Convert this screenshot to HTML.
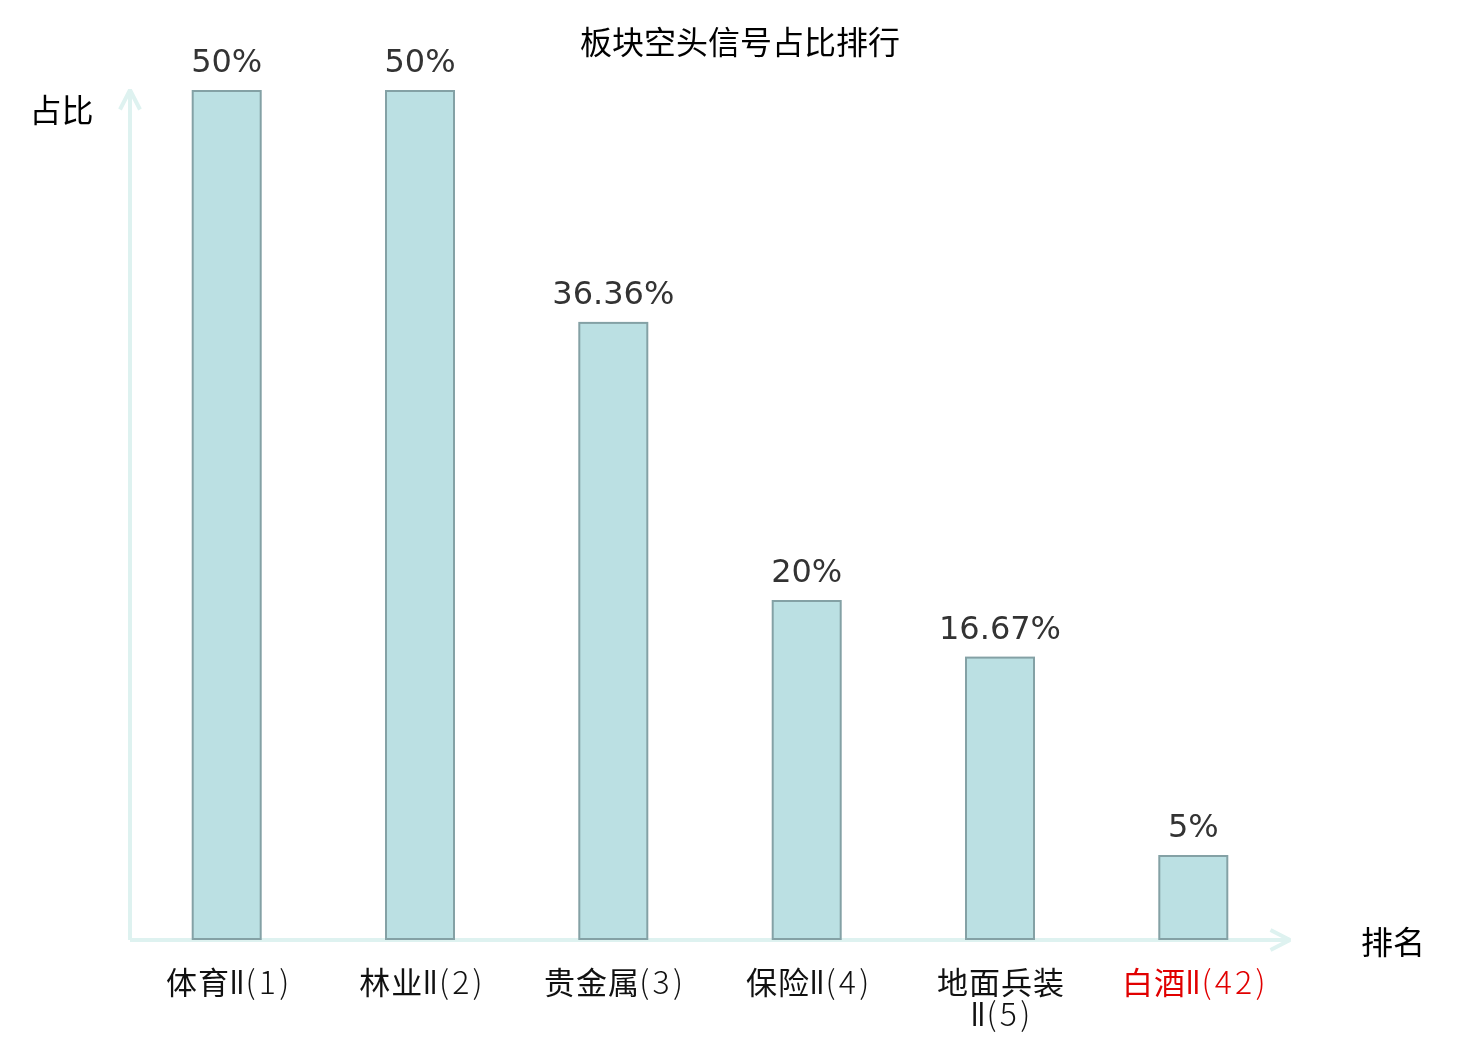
<!DOCTYPE html>
<html lang="zh">
<head>
<meta charset="utf-8">
<title>板块空头信号占比排行</title>
<style>
html,body{margin:0;padding:0;background:#fff;}
body{width:1480px;height:1040px;overflow:hidden;position:relative;}
svg{position:absolute;left:0;top:0;display:block;}
.cjk{font-family:"Liberation Sans","Noto Sans CJK JP",sans-serif;font-size:32px;font-weight:400;fill:#000;}
.val{font-family:"DejaVu Sans","Liberation Sans",sans-serif;font-size:32px;fill:#333;text-anchor:middle;}
.xl{font-family:"Noto Sans CJK SC","Noto Sans CJK JP",sans-serif;font-size:32px;fill:#111;}
.xl .c{font-weight:400;font-size:31px;letter-spacing:1px;}
.xl .r{font-weight:500;}
.xl .d{font-weight:300;letter-spacing:3.2px;}
.bar{fill:#BBE0E3;stroke:#84A1A5;stroke-width:2;}
.ax{stroke:#DEF2F0;stroke-width:4;fill:none;stroke-linejoin:bevel;}
</style>
</head>
<body>
<svg width="1480" height="1040" viewBox="0 0 1480 1040">
  <g class="ax">
    <line x1="130" y1="940" x2="130" y2="91"/>
    <polyline points="120,109.5 130,90 140,109.5"/>
    <line x1="130" y1="940" x2="1289" y2="940"/>
    <polyline points="1270.5,930 1290,940 1270.5,950"/>
  </g>
  <g class="bar">
    <rect x="192.7" y="91.0" width="68" height="848.0"/>
    <rect x="386.0" y="91.0" width="68" height="848.0"/>
    <rect x="579.3" y="322.9" width="68" height="616.1"/>
    <rect x="772.7" y="601.0" width="68" height="338.0"/>
    <rect x="966.0" y="657.6" width="68" height="281.4"/>
    <rect x="1159.3" y="856.0" width="68" height="83.0"/>
  </g>
  <g class="val">
    <text x="226.7" y="72.0">50%</text>
    <text x="420.0" y="72.0">50%</text>
    <text x="613.3" y="303.9">36.36%</text>
    <text x="806.7" y="582.0">20%</text>
    <text x="1000.0" y="638.6">16.67%</text>
    <text x="1193.3" y="837.0">5%</text>
  </g>
  <text class="cjk" x="740" y="54" text-anchor="middle">板块空头信号占比排行</text>
  <text class="cjk" x="29.5" y="122">占比</text>
  <text class="cjk" x="1361" y="953.5">排名</text>
  <g class="xl">
    <text y="993.5"><tspan class="c" x="166.0">体育</tspan><tspan class="r" x="226.2" dy="0.5" textLength="21.5" lengthAdjust="spacingAndGlyphs">Ⅱ</tspan><tspan class="d" x="245.6">(1)</tspan></text>
    <text y="993.5"><tspan class="c" x="359.3">林业</tspan><tspan class="r" x="419.5" dy="0.5" textLength="21.5" lengthAdjust="spacingAndGlyphs">Ⅱ</tspan><tspan class="d" x="438.9">(2)</tspan></text>
    <text y="993.5"><tspan class="c" x="543.9">贵金属</tspan><tspan class="d" dy="0.5" x="639.3">(3)</tspan></text>
    <text y="993.5"><tspan class="c" x="746.0">保险</tspan><tspan class="r" x="806.2" dy="0.5" textLength="21.5" lengthAdjust="spacingAndGlyphs">Ⅱ</tspan><tspan class="d" x="825.6">(4)</tspan></text>
    <text y="993.5"><tspan class="c" x="937.0">地面兵装</tspan><tspan class="r" x="967.2" y="1026.0" textLength="21.5" lengthAdjust="spacingAndGlyphs">Ⅱ</tspan><tspan class="d" x="986.6" y="1026.0">(5)</tspan></text>
    <text y="993.5" style="fill:#E10000"><tspan class="c" x="1122.1">白酒</tspan><tspan class="r" x="1182.2" dy="0.5" textLength="21.5" lengthAdjust="spacingAndGlyphs">Ⅱ</tspan><tspan class="d" x="1201.5">(42)</tspan></text>
  </g>
</svg>
</body>
</html>
